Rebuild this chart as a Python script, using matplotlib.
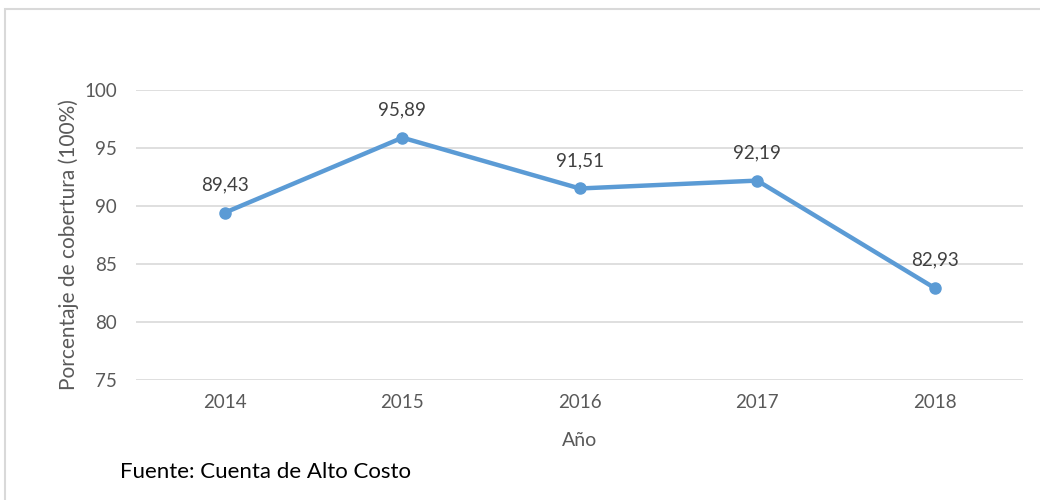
import matplotlib.pyplot as plt
from matplotlib.patches import Rectangle

# data
years = ['2014', '2015', '2016', '2017', '2018']
cobertura = [89.43, 95.89, 91.51, 92.19, 82.93]
yticks = [75, 80, 85, 90, 95, 100]

plt.rcParams['font.family'] = ['Lato', 'DejaVu Sans']

fig = plt.figure(figsize=(10.4, 5), dpi=100)
ax = fig.add_axes([0.131, 0.24, 0.853, 0.58])

x = range(len(years))
ax.plot(x, cobertura, color='#5B9BD5', linewidth=3.2, marker='o', markersize=8, zorder=3)

# data labels
for xi, v in zip(x, cobertura):
    ax.annotate(f'{v:.2f}'.replace('.', ','), (xi, v), xytext=(0, 20),
                textcoords='offset points', ha='center', va='center',
                fontsize=13.5, color='#404040')

ax.set_xlim(-0.5, len(years) - 0.5)
ax.set_ylim(75, 100)
ax.set_yticks(yticks)
ax.set_xticks(list(x), years)
ax.yaxis.grid(True, color='#D9D9D9', linewidth=1.2)
ax.set_axisbelow(True)
for s in ax.spines.values():
    s.set_visible(False)
ax.tick_params(length=0, labelsize=13.5, labelcolor='#595959', pad=10)
ax.tick_params(axis='y', pad=14)

ax.set_xlabel('Año', fontsize=14, color='#595959')
ax.xaxis.set_label_coords(0.5, -0.178)
ax.set_ylabel('Porcentaje de cobertura (100%)', fontsize=15, color='#595959')
ax.yaxis.set_label_coords(-0.064, 0.466)

fig.text(120 / 1040, 1 - 472 / 500, 'Fuente: Cuenta de Alto Costo', fontsize=16,
         color='black', va='center', ha='left')

# light frame around the chart
fig.patches.append(Rectangle((5 / 1040, -0.1), 1.2, 1 - 9 / 500 + 0.1,
                             transform=fig.transFigure, fill=False,
                             edgecolor='#D9D9D9', linewidth=1.5))

fig.savefig('out.png', dpi=100)
